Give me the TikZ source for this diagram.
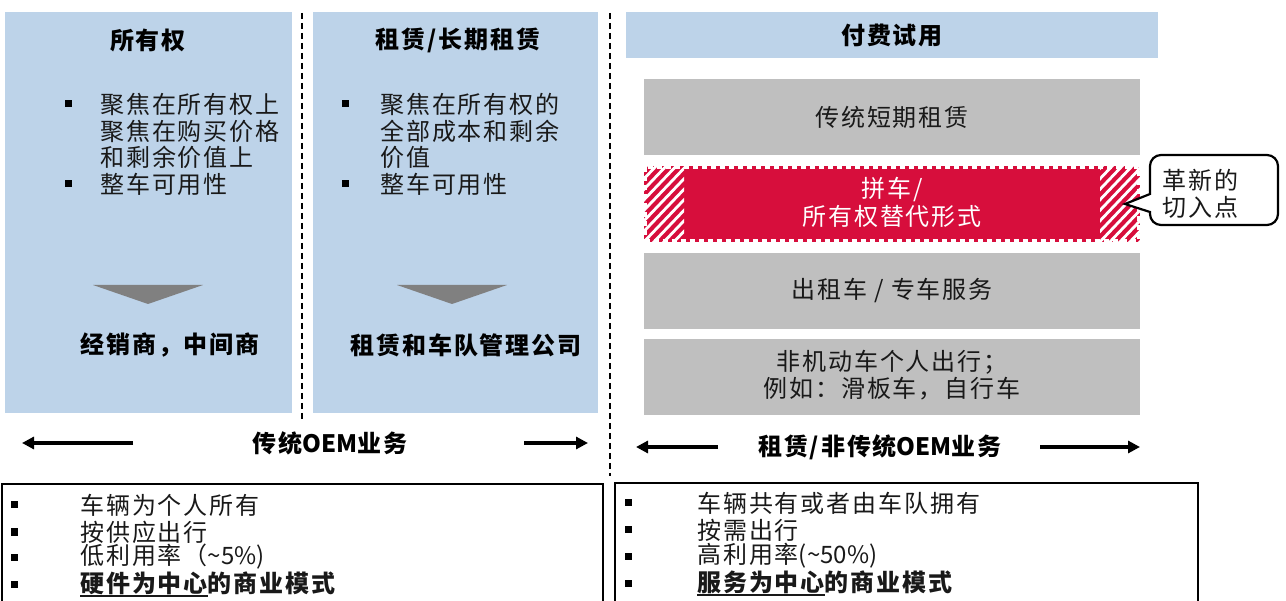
\documentclass[tikz,border=0pt]{standalone}
\usepackage{fontspec}
\newfontfamily\cjk[LetterSpace=8]{Noto Sans CJK SC}
\newfontfamily\cjkn{Noto Sans CJK SC}
\usetikzlibrary{arrows.meta}
\definecolor{lblue}{RGB}{189,211,233}
\definecolor{lgray}{RGB}{191,191,191}
\definecolor{cred}{RGB}{215,14,60}
\definecolor{tgray}{RGB}{128,128,128}
\definecolor{tblack}{RGB}{25,25,25}
\newcommand\myul[1]{\setbox0\hbox{#1}\rlap{\rule[-4.5pt]{\wd0}{1.8pt}}\box0}
\newcommand\nl[1]{{\cjkn #1}}
\tikzset{
  panel/.style={fill=lblue,draw=none,inner sep=0,anchor=north west},
  gbox/.style={fill=lgray,draw=none,inner sep=0,anchor=north west,minimum width=496pt,minimum height=76pt},
  bul/.style={fill=black,minimum size=7pt,inner sep=0},
  txt/.style={inner sep=0,anchor=west,text=tblack},
  ctxt/.style={inner sep=0,text=tblack},
  ttl/.style={inner sep=0,text=black,font=\cjk\fontsize{24}{28}\selectfont\bfseries},
  bigarrow/.style={line width=3.2pt,-{Triangle[length=12pt,width=12pt]}},
  frame/.style={draw=black,line width=1.3pt,fill=none},
  sep/.style={line width=1.6pt,dash pattern=on 6pt off 4pt},
}
\begin{document}
\begin{tikzpicture}[x=1pt,y=-1pt,font=\cjk\fontsize{24}{28}\selectfont]
\useasboundingbox (0,0) rectangle (1286,601);

% ---- left panels
\node[panel,minimum width=287pt,minimum height=401pt] (own) at (5,12) {};
\node[panel,minimum width=285pt,minimum height=401pt] (lease) at (313,12) {};
\draw[sep] (302,13) -- (302,420);
\draw[sep] (610,13) -- (610,476);

\node[ttl] (ownT) at (148,40) {所有权};
\node[bul] (ob1) at (68,104) {};
\node[txt] (o1) at (100,104) {聚焦在所有权上};
\node[txt] (o2) at (100,131) {聚焦在购买价格};
\node[txt] (o3) at (100,157) {和剩余价值上};
\node[bul] (ob2) at (68,184) {};
\node[txt] (o4) at (100,184) {整车可用性};
\fill[tgray] (93,285) -- (203,285) -- (148,304) -- cycle;
\node[ttl] (ownR) at (170,345) {经销商，中间商};

\node[ttl] (leaseT) at (458,40) {租赁/长期租赁};
\node[bul] (lb1) at (345,104) {};
\node[txt] (l1) at (380,104) {聚焦在所有权的};
\node[txt] (l2) at (380,131) {全部成本和剩余};
\node[txt] (l3) at (380,157) {价值};
\node[bul] (lb2) at (345,184) {};
\node[txt] (l4) at (380,184) {整车可用性};
\fill[tgray] (397,285) -- (507,285) -- (452,304) -- cycle;
\node[ttl] (leaseR) at (466,345) {租赁和车队管理公司};

% ---- right column
\node[panel,minimum width=532pt,minimum height=46pt] (pay) at (626,12) {};
\node[ttl] (payT) at (892,35) {付费试用};

\node[gbox] (g1) at (644,79) {};
\node[ctxt] (g1t) at (892,117) {传统短期租赁};

\node[gbox,fill=cred] (rb) at (644,166) {};
\begin{scope}
  \clip (644,166) rectangle (684,242);
  \foreach \k in {560,570,...,720} \draw[white,line width=2.8pt] (\k,246) -- (\k+80,162);
\end{scope}
\begin{scope}
  \clip (1100,166) rectangle (1140,242);
  \foreach \k in {1016,1026,...,1176} \draw[white,line width=2.8pt] (\k,246) -- (\k+80,162);
\end{scope}
\draw[white,line width=2.2pt,dash pattern=on 5pt off 4pt] (645.5,167.5) rectangle (1138.5,240.5);
\node[ctxt,text=white] (rt1) at (892,190) {拼车/};
\node[ctxt,text=white] (rt2) at (892,216) {所有权替代形式};

\node[gbox] (g3) at (644,253) {};
\node[ctxt] (g3t) at (892,291) {出租车 / 专车服务};

\node[gbox] (g4) at (644,339) {};
\node[ctxt] (g4t1) at (892,362) {非机动车个人出行；};
\node[ctxt] (g4t2) at (892,389) {例如：滑板车，自行车};

% callout
\draw[line width=2.2pt,fill=white,rounded corners=11pt]
  (1150,194) -- (1150,155) -- (1278,155) -- (1278,225) -- (1150,225) [sharp corners] -- (1150,212) -- (1125,204) -- cycle;
\coordinate (tip) at (1125,204);
\node[txt] (c1) at (1162,180) {革新的};
\node[txt] (c2) at (1162,207) {切入点};

% ---- arrows row
\coordinate (a1s) at (133,443); \coordinate (a1e) at (22,443);
\coordinate (a2s) at (524,443); \coordinate (a2e) at (588,443);
\draw[bigarrow] (a1s) -- (a1e);
\draw[bigarrow] (a2s) -- (a2e);
\node[ttl] (oemT) at (330,443) {传统\nl{OEM}业务};

\coordinate (a3s) at (718,447); \coordinate (a3e) at (636,447);
\coordinate (a4s) at (1040,447); \coordinate (a4e) at (1140,447);
\draw[bigarrow] (a3s) -- (a3e);
\draw[bigarrow] (a4s) -- (a4e);
\node[ttl] (noemT) at (880,447) {租赁/非传统\nl{OEM}业务};

% ---- bottom boxes
\draw[frame] (2,484) rectangle (603,612);
\draw[frame] (615,483) rectangle (1198,612);

\node[bul] (pb1) at (14,505) {};
\node[bul] (pb2) at (14,532) {};
\node[bul] (pb3) at (14,557) {};
\node[bul] (pb4) at (14,584) {};
\node[txt] (p1) at (80,505) {车辆为个人所有};
\node[txt] (p2) at (80,532) {按供应出行};
\node[txt] (p3) at (80,557) {低利用率（\nl{\textasciitilde 5\%)}};
\node[txt,font=\cjk\fontsize{24}{28}\selectfont\bfseries] (p4) at (80,584) {\myul{硬件为中心}的商业模式};

\node[bul] (qb1) at (628,503) {};
\node[bul] (qb2) at (628,530) {};
\node[bul] (qb3) at (628,556) {};
\node[bul] (qb4) at (628,583) {};
\node[txt] (q1) at (697,503) {车辆共有或者由车队拥有};
\node[txt] (q2) at (697,530) {按需出行};
\node[txt] (q3) at (697,556) {高利用率\nl{(\textasciitilde 50\%)}};
\node[txt,font=\cjk\fontsize{24}{28}\selectfont\bfseries] (q4) at (697,583) {\myul{服务为中心}的商业模式};
\end{tikzpicture}
\end{document}
